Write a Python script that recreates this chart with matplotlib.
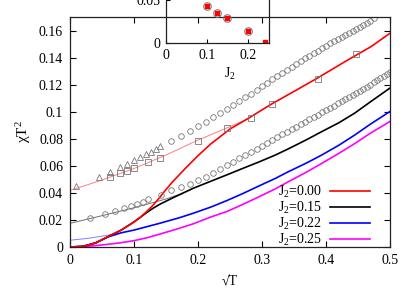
import numpy as np
import matplotlib
matplotlib.use("Agg")
import matplotlib.pyplot as plt
from matplotlib.ticker import FuncFormatter

plt.rcParams['font.family'] = ['Liberation Serif', 'DejaVu Serif']
plt.rcParams['mathtext.fontset'] = 'custom'
plt.rcParams['mathtext.rm'] = 'Liberation Serif'
plt.rcParams['mathtext.it'] = 'Liberation Serif:italic'

# --- data (x axis is sqrt(T)) ---
# J2 = 0.00
x_j000 = [0, 0.02, 0.04, 0.06, 0.08, 0.1, 0.11, 0.12, 0.13, 0.14, 0.15, 0.16, 0.18, 0.2, 0.22,
          0.25, 0.28, 0.315, 0.35, 0.385, 0.435, 0.47, 0.5]
y_j000 = [0, 0.0004, 0.003, 0.0078, 0.0125, 0.0185, 0.022, 0.0263, 0.031, 0.0365, 0.0425, 0.048,
          0.058, 0.0675, 0.0762, 0.0872, 0.0955, 0.1057, 0.115, 0.1244, 0.1385, 0.148, 0.158]
# J2 = 0.15
x_j015 = [0, 0.02, 0.04, 0.06, 0.08, 0.1, 0.11, 0.12, 0.13, 0.14, 0.16, 0.193, 0.22, 0.245,
          0.27, 0.297, 0.32, 0.341, 0.37, 0.393, 0.42, 0.445, 0.47, 0.5]
y_j015 = [0, 0.0004, 0.003, 0.0078, 0.0125, 0.0185, 0.022, 0.0255, 0.0287, 0.0315, 0.0362, 0.0435,
          0.0486, 0.0533, 0.0581, 0.0632, 0.0678, 0.0725, 0.0794, 0.0852, 0.0918, 0.099, 0.1075,
          0.1175]
# J2 = 0.22
x_j022 = [0, 0.02, 0.04, 0.06, 0.08, 0.1, 0.12, 0.14, 0.17, 0.193, 0.22, 0.245, 0.27, 0.297,
          0.32, 0.341, 0.37, 0.393, 0.42, 0.445, 0.47, 0.5]
y_j022 = [0, 0.0005, 0.003, 0.0075, 0.0105, 0.0125, 0.015, 0.0175, 0.0215, 0.025, 0.0295, 0.0343,
          0.0395, 0.0455, 0.0505, 0.0556, 0.0622, 0.0679, 0.0752, 0.0828, 0.091, 0.1002]
# J2 = 0.25
x_j025 = [0, 0.02, 0.04, 0.06, 0.08, 0.1, 0.12, 0.14, 0.17, 0.193, 0.22, 0.245, 0.27, 0.297,
          0.32, 0.341, 0.37, 0.393, 0.42, 0.445, 0.47, 0.5]
y_j025 = [0, 0.0003, 0.001, 0.002, 0.0032, 0.0047, 0.0068, 0.0095, 0.0137, 0.0172, 0.0222, 0.0262,
          0.0315, 0.0375, 0.0428, 0.0482, 0.0555, 0.0617, 0.0692, 0.0765, 0.0843, 0.0928]

# thin extrapolation lines
x_fit_red = [0, 0.05, 0.1, 0.15, 0.2, 0.25, 0.28]
y_fit_red = [0.0418, 0.0495, 0.058, 0.068, 0.079, 0.089, 0.095]
x_fit_gray = [0, 0.047, 0.1, 0.15, 0.175]
y_fit_gray = [0.0175, 0.0228, 0.029, 0.0355, 0.0395]
x_fit_blue = [0, 0.03, 0.06, 0.075]
y_fit_blue = [0.005, 0.0065, 0.0088, 0.0105]

# triangles
x_tri = [0.01, 0.0447, 0.0632, 0.0775, 0.0894, 0.1, 0.1095, 0.1183, 0.1265, 0.1342, 0.1414]
y_tri = [0.0454, 0.0516, 0.0558, 0.059, 0.0615, 0.064, 0.0664, 0.0684, 0.0701, 0.0723, 0.0743]

# squares
x_sq = [0.0632, 0.0775, 0.0894, 0.1, 0.1225, 0.1414, 0.2, 0.245, 0.283, 0.316, 0.387, 0.447]
y_sq = [0.0516, 0.0546, 0.0565, 0.0583, 0.0625, 0.0657, 0.078, 0.0879, 0.095, 0.1055, 0.1244, 0.143]

# upper circles (temperatures)
T_up = [0.025, 0.03, 0.035, 0.04, 0.045, 0.05, 0.055, 0.06, 0.065, 0.07, 0.075, 0.08, 0.085,
        0.09, 0.095, 0.1, 0.105, 0.11, 0.115, 0.12, 0.125, 0.13, 0.135, 0.14, 0.145, 0.15,
        0.155, 0.16, 0.165, 0.17, 0.175, 0.18, 0.185, 0.19, 0.195, 0.2, 0.205, 0.21, 0.215,
        0.22, 0.225]
y_up = [0.0785, 0.0822, 0.0858, 0.0893, 0.0926, 0.0959, 0.099, 0.102, 0.105, 0.1078, 0.1106,
        0.1133, 0.116, 0.1188, 0.1214, 0.1239, 0.1263, 0.1287, 0.131, 0.1332, 0.1353, 0.1374,
        0.1394, 0.1414, 0.1433, 0.1452, 0.147, 0.1488, 0.1505, 0.1522, 0.1538, 0.1554, 0.1569,
        0.1584, 0.1599, 0.1614, 0.1629, 0.1644, 0.1659, 0.1674, 0.169]

# lower circles (temperatures)
T_lo = [0.001, 0.003, 0.005, 0.007, 0.009, 0.011, 0.013, 0.015, 0.02, 0.025, 0.03, 0.035,
        0.04, 0.045, 0.05, 0.055, 0.06, 0.065, 0.07, 0.075, 0.08, 0.085, 0.09, 0.095, 0.1,
        0.105, 0.11, 0.115, 0.12, 0.125, 0.13, 0.135, 0.14, 0.145, 0.15, 0.155, 0.16, 0.165,
        0.17, 0.175, 0.18, 0.185, 0.19, 0.195, 0.2, 0.205, 0.21, 0.215, 0.22, 0.225, 0.23,
        0.235, 0.24, 0.245, 0.25]
y_lo = [0.0212, 0.0245, 0.0268, 0.0287, 0.0305, 0.032, 0.0336, 0.0352, 0.0387, 0.0418, 0.0445,
        0.0468, 0.0493, 0.0519, 0.055, 0.0577, 0.0604, 0.0631, 0.0656, 0.068, 0.0703, 0.0726,
        0.0749, 0.0771, 0.0792, 0.0812, 0.0832, 0.0852, 0.0871, 0.089, 0.0908, 0.0926, 0.0944,
        0.0961, 0.0978, 0.0995, 0.1012, 0.1028, 0.1045, 0.1061, 0.1077, 0.1093, 0.1109, 0.1125,
        0.114, 0.1156, 0.1171, 0.1186, 0.1201, 0.1216, 0.1231, 0.1246, 0.1261, 0.1276, 0.129]

# inset data
j2_inset = [0.10, 0.124, 0.149, 0.20, 0.24]
gap_inset = [0.043, 0.035, 0.029, 0.014, 0.001]
circled = [True, True, True, True, False]

fmt = FuncFormatter(lambda v, p: '%g' % round(v, 4))

fig = plt.figure(figsize=(4.14, 2.90), dpi=100)
ax = fig.add_axes([70/414, 43/290, 320/414, 230/290])

gray = '#777777'
ax.plot(x_fit_red, y_fit_red, color='#ff7f7f', lw=0.7)
ax.plot(x_fit_gray, y_fit_gray, color='#707070', lw=0.7)
ax.plot(x_fit_blue, y_fit_blue, color='#8080ff', lw=0.7)

ax.plot(x_j025, y_j025, color='#ff00ff', lw=1.2, label='J$_2$=0.25')
ax.plot(x_j022, y_j022, color='#0000ff', lw=1.2, label='J$_2$=0.22')
ax.plot(x_j015, y_j015, color='black', lw=1.2, label='J$_2$=0.15')
ax.plot(x_j000, y_j000, color='#ff0000', lw=1.2, label='J$_2$=0.00')

mk = dict(ls='none', mfc='none', mec=gray, mew=0.6)
ax.plot(x_tri, y_tri, marker='^', ms=4.2, **mk)
ax.plot(x_sq, y_sq, marker='s', ms=3.8, **mk)
ax.plot(np.sqrt(T_up), y_up, marker='o', ms=4.0, **mk)
ax.plot(np.sqrt(T_lo), y_lo, marker='o', ms=4.0, **mk)

ax.set_xlim(0, 0.5)
ax.set_ylim(0, 0.17)
ax.set_xticks([0, 0.1, 0.2, 0.3, 0.4, 0.5])
ax.set_yticks([0, 0.02, 0.04, 0.06, 0.08, 0.1, 0.12, 0.14, 0.16])
ax.xaxis.set_major_formatter(fmt)
ax.yaxis.set_major_formatter(fmt)
ax.tick_params(direction='in', top=True, right=True, length=4, width=0.8, labelsize=10, pad=5)
for s in ax.spines.values():
    s.set_linewidth(0.9)
    s.set_color('#222222')
ax.set_xlabel('√T', fontsize=10, labelpad=6)
ax.set_ylabel('χT$^2$', fontsize=11, labelpad=4)

handles, labels = ax.get_legend_handles_labels()
ax.legend(handles[::-1], labels[::-1], loc='lower right', bbox_to_anchor=(0.965, -0.04),
          frameon=False, markerfirst=False, fontsize=10, handlelength=2.9,
          labelspacing=0.0, handletextpad=0.6, borderaxespad=0.2)

# inset (top part goes past the figure edge)
ins = fig.add_axes([166/414, (290-43)/290, 103/414, 60/290])
ins.patch.set_alpha(0)
for j, g, c in zip(j2_inset, gap_inset, circled):
    if c:
        ins.plot(j, g, marker='o', ms=5.5, mfc='none', mec=gray, mew=0.7, ls='none')
    ins.plot(j, g, marker='s', ms=2.8, color='#ff0000', mec='#ff0000', ls='none')
ins.set_xlim(0, 0.25)
ins.set_ylim(0, 0.07)
ins.set_xticks([0, 0.1, 0.2])
ins.set_yticks([0, 0.05])
ins.xaxis.set_major_formatter(fmt)
ins.yaxis.set_major_formatter(fmt)
ins.tick_params(direction='in', length=3, width=0.8, labelsize=10, pad=4)
for s in ins.spines.values():
    s.set_linewidth(0.9)
    s.set_color('#222222')
ins.set_xlabel('J$_2$', fontsize=10)
ins.xaxis.set_label_coords(0.62, -0.38)

fig.savefig('out.png', dpi=100)
